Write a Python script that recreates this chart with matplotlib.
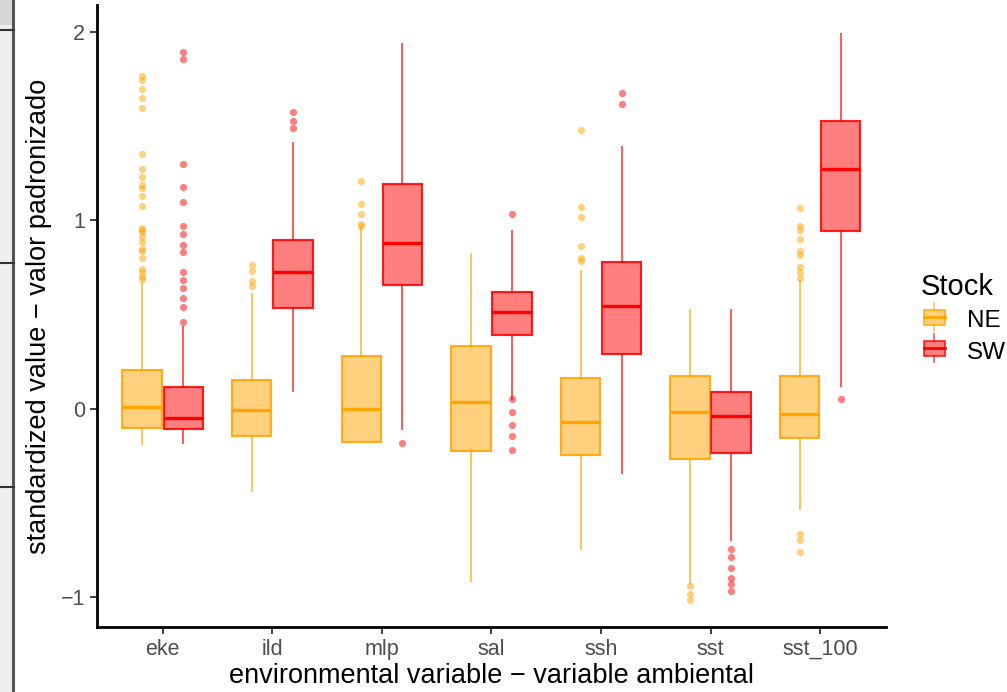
import matplotlib
matplotlib.use("Agg")
import matplotlib.pyplot as plt
from matplotlib.patches import Patch, Rectangle
from matplotlib.lines import Line2D
from matplotlib.legend_handler import HandlerBase

plt.rcParams['font.family'] = ['Liberation Sans', 'DejaVu Sans']

# data
variables = ['eke', 'ild', 'mlp', 'sal', 'ssh', 'sst', 'sst_100']

ne_lo = [-0.186, -0.436, -0.175, -0.915, -0.745, -0.933, -0.532]
ne_q1 = [-0.104, -0.144, -0.175, -0.227, -0.247, -0.268, -0.155]
ne_med = [0.010, -0.008, -0.002, 0.033, -0.073, -0.019, -0.029]
ne_q3 = [0.207, 0.155, 0.280, 0.335, 0.162, 0.172, 0.175]
ne_hi = [0.667, 0.610, 0.960, 0.822, 0.730, 0.524, 0.677]
ne_out = [
    [1.766, 1.745, 1.70, 1.65, 1.60, 1.352, 1.272, 1.231, 1.19, 1.17, 1.129, 1.078,
     0.96, 0.95, 0.939, 0.91, 0.888, 0.851, 0.837, 0.80, 0.744, 0.724, 0.70, 0.687],
    [0.766, 0.73, 0.677, 0.654],
    [1.21, 1.086, 1.035, 0.98, 0.97],
    [],
    [1.48, 1.07, 1.016, 0.863, 0.80, 0.785],
    [-0.943, -0.984, -1.015],
    [1.064, 0.97, 0.95, 0.90, 0.837, 0.817, 0.755, 0.724, 0.694,
     -0.667, -0.70, -0.76],
]

sw_lo = [-0.180, 0.096, -0.110, 0.053, -0.340, -0.697, 0.120]
sw_q1 = [-0.110, 0.537, 0.657, 0.394, 0.288, -0.237, 0.943]
sw_med = [-0.048, 0.724, 0.878, 0.516, 0.547, -0.037, 1.272]
sw_q3 = [0.114, 0.896, 1.195, 0.622, 0.780, 0.090, 1.527]
sw_hi = [0.432, 1.410, 1.937, 0.943, 1.390, 0.527, 1.990]
sw_out = [
    [1.895, 1.86, 1.30, 1.18, 1.10, 0.97, 0.93, 0.87, 0.83, 0.724, 0.683, 0.643,
     0.59, 0.54, 0.463],
    [1.577, 1.53, 1.49],
    [-0.18],
    [1.035, 0.053, -0.016, -0.084, -0.145, -0.22],
    [1.68, 1.62],
    [-0.745, -0.79, -0.846, -0.90, -0.933, -0.968],
    [0.05],
]

ne_col = '#FFA500'
sw_col = '#FF0000'


def make_stats(lo, q1, med, q3, hi, out):
    return [dict(whislo=lo[i], q1=q1[i], med=med[i], q3=q3[i], whishi=hi[i], fliers=out[i])
            for i in range(len(med))]


class BoxKey(HandlerBase):
    # small boxplot glyph like ggplot's legend key
    def create_artists(self, legend, orig, x0, y0, w, h, fontsize, trans):
        col = orig.get_edgecolor()
        cx = x0 + w / 2
        box = Rectangle((x0 + w * 0.1, y0 + h * 0.1), w * 0.8, h * 0.8,
                        facecolor=col, alpha=0.5, edgecolor='none', transform=trans)
        edge = Rectangle((x0 + w * 0.1, y0 + h * 0.1), w * 0.8, h * 0.8,
                         fill=False, edgecolor=col, linewidth=1.3, alpha=0.8, transform=trans)
        med = Line2D([x0 + w * 0.1, x0 + w * 0.9], [y0 + h / 2, y0 + h / 2],
                     color=col, linewidth=2, transform=trans)
        wh1 = Line2D([cx, cx], [y0 + h * 0.9, y0 + h * 1.25], color=col, alpha=0.65,
                     linewidth=1.2, transform=trans)
        wh2 = Line2D([cx, cx], [y0 - h * 0.25, y0 + h * 0.1], color=col, alpha=0.65,
                     linewidth=1.2, transform=trans)
        return [box, edge, med, wh1, wh2]


fig = plt.figure(figsize=(10.07, 6.92), dpi=100)
ax = fig.add_axes([0.0963, 0.0939, 0.7835, 0.8989])

pos = list(range(1, len(variables) + 1))
for stats, off, col in [(make_stats(ne_lo, ne_q1, ne_med, ne_q3, ne_hi, ne_out), -0.1875, ne_col),
                        (make_stats(sw_lo, sw_q1, sw_med, sw_q3, sw_hi, sw_out), 0.1875, sw_col)]:
    ax.bxp(stats, positions=[p + off for p in pos], widths=0.36, patch_artist=True,
           showcaps=False, manage_ticks=False,
           boxprops=dict(facecolor=col, alpha=0.5, edgecolor=col, linewidth=1.5),
           whiskerprops=dict(color=col, alpha=0.65, linewidth=1.4),
           medianprops=dict(color=col, linewidth=2.4),
           flierprops=dict(marker='o', markerfacecolor=col, markeredgecolor='none',
                           markersize=5.2, alpha=0.5))
    # box edges drawn again without the fill alpha
    for s, p in zip(stats, pos):
        ax.add_patch(Rectangle((p + off - 0.18, s['q1']), 0.36, s['q3'] - s['q1'],
                               fill=False, edgecolor=col, linewidth=1.5, alpha=0.75))

ax.set_xlim(0.4, 7.6)
ax.set_ylim(-1.16, 2.145)
ax.set_xticks(pos)
ax.set_xticklabels(variables)
ax.set_yticks([-1, 0, 1, 2])
ax.set_yticklabels(['\u22121', '0', '1', '2'])
ax.tick_params(axis='both', colors='#333333', labelcolor='#4D4D4D', labelsize=15.5,
               length=5, width=1.3)
for s in ['top', 'right']:
    ax.spines[s].set_visible(False)
for s in ['left', 'bottom']:
    ax.spines[s].set_linewidth(2)
    ax.spines[s].set_color('black')
ax.set_xlabel('environmental variable \u2212 variable ambiental', fontsize=19.5, labelpad=2)
ax.set_ylabel('standardized value \u2212 valor padronizado', fontsize=19.5, labelpad=6)

handles = [Patch(facecolor=ne_col, edgecolor=ne_col, label='NE'),
           Patch(facecolor=sw_col, edgecolor=sw_col, label='SW')]
leg = fig.legend(handles=handles, title='Stock', loc='center left',
                 bbox_to_anchor=(0.905, 0.54), frameon=False, fontsize=17.5,
                 title_fontsize=21, handlelength=1.1, handleheight=0.8,
                 handletextpad=0.8, labelspacing=0.35, borderaxespad=0,
                 handler_map={Patch: BoxKey()})
leg._legend_box.align = 'left'

# screenshot strip on the left edge
fig.patches.append(Rectangle((0, 0), 12 / 1007, 1, transform=fig.transFigure,
                             facecolor='#efefef', edgecolor='none'))
fig.patches.append(Rectangle((0, 1 - 25 / 692), 12 / 1007, 25 / 692, transform=fig.transFigure,
                             facecolor='#d6d6d6', edgecolor='none'))
fig.lines.append(Line2D([12.5 / 1007, 12.5 / 1007], [0, 1], transform=fig.transFigure,
                        color='#555555', linewidth=2.2))
for yy in [30, 263, 487]:
    fig.lines.append(Line2D([0, 14 / 1007], [1 - yy / 692, 1 - yy / 692],
                            transform=fig.transFigure, color='#333333', linewidth=1.5))

fig.savefig('out.png', dpi=100)
